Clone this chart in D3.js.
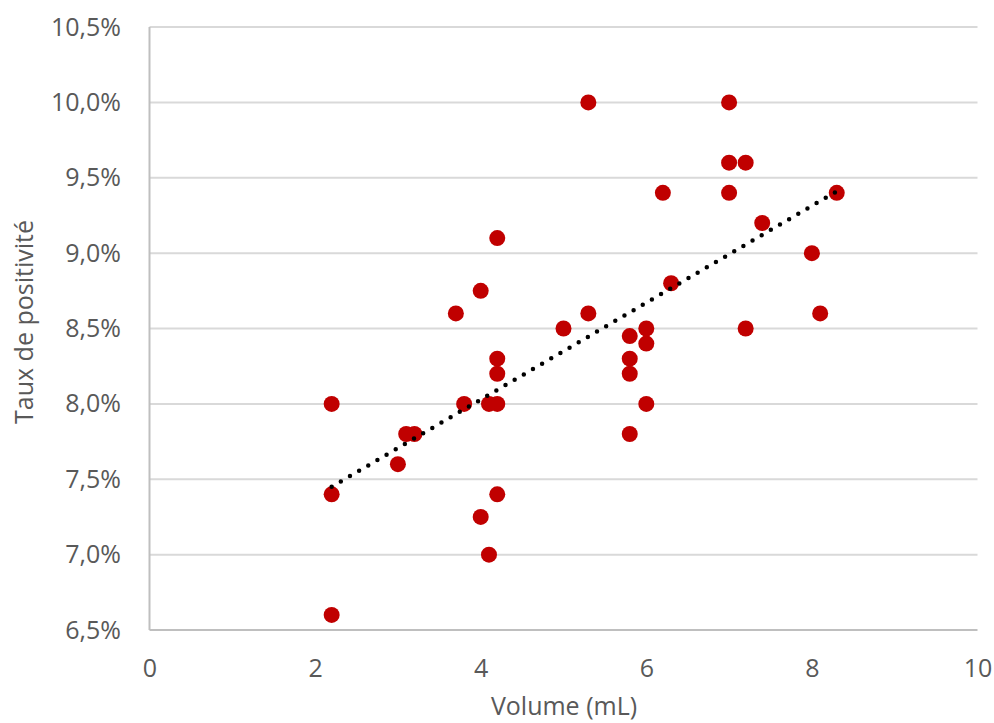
<!DOCTYPE html>
<html>
<head>
<meta charset="utf-8">
<script src="https://cdn.jsdelivr.net/npm/d3@7"></script>
<style>
  html, body { margin: 0; padding: 0; background: #fff; }
  svg { display: block; }
  text { font-family: "Open Sans", sans-serif; }
</style>
</head>
<body>
<script>
// Data
const volume = [2.2, 2.2, 2.2, 3.0, 3.1, 3.2, 3.7, 3.8, 4.0, 4.0, 4.1, 4.1, 4.2, 4.2, 4.2, 4.2, 4.2,
                5.0, 5.3, 5.3, 5.8, 5.8, 5.8, 5.8, 6.0, 6.0, 6.0, 6.2, 6.3, 7.0, 7.0, 7.0, 7.2, 7.2,
                7.4, 8.0, 8.1, 8.3];
const taux   = [8.0, 7.4, 6.6, 7.6, 7.8, 7.8, 8.6, 8.0, 8.75, 7.25, 8.0, 7.0, 9.1, 8.3, 8.2, 8.0, 7.4,
                8.5, 10.0, 8.6, 8.45, 8.3, 8.2, 7.8, 8.5, 8.4, 8.0, 9.4, 8.8, 10.0, 9.6, 9.4, 9.6, 8.5,
                9.2, 9.0, 8.6, 9.4];
const trendX = [2.2, 8.3];
const trendY = [7.45, 9.41];
const xTicks = [0, 2, 4, 6, 8, 10];
const yTicks = [6.5, 7.0, 7.5, 8.0, 8.5, 9.0, 9.5, 10.0, 10.5];
const xTitle = "Volume (mL)";
const yTitle = "Taux de positivité";

const W = 994, H = 723;
const svg = d3.select("body").append("svg").attr("width", W).attr("height", H);

const x = d3.scaleLinear().domain([0, 10]).range([149.5, 977.5]);
const y = d3.scaleLinear().domain([6.5, 10.5]).range([630, 27]);

const loc = d3.formatLocale({decimal: ",", thousands: " ", grouping: [3], currency: ["", "€"]});
const fmtY = d => loc.format(".1f")(d) + "%";

// gridlines
svg.append("g").selectAll("line").data(yTicks.filter(d => d !== 6.5)).join("line")
  .attr("x1", x(0)).attr("x2", x(10))
  .attr("y1", d => y(d)).attr("y2", d => y(d))
  .attr("stroke", "#d9d9d9").attr("stroke-width", 2);

// axis lines
svg.append("line").attr("x1", x(0)).attr("x2", x(0)).attr("y1", y(10.5)).attr("y2", y(6.5))
  .attr("stroke", "#bfbfbf").attr("stroke-width", 2);
svg.append("line").attr("x1", x(0)).attr("x2", x(10)).attr("y1", y(6.5)).attr("y2", y(6.5))
  .attr("stroke", "#bfbfbf").attr("stroke-width", 2);

// y axis labels
const gy = svg.append("g").attr("transform", `translate(${x(0)},0)`)
  .call(d3.axisLeft(y).tickValues(yTicks).tickFormat(fmtY).tickSize(0).tickPadding(28.5));
gy.select(".domain").remove();
gy.selectAll("text").attr("fill", "#595959").style("font-size", "25px").style("font-family", "'Open Sans', sans-serif");

// x axis labels
const gx = svg.append("g").attr("transform", `translate(0,${y(6.5)})`)
  .call(d3.axisBottom(x).tickValues(xTicks).tickFormat(d3.format("d")).tickSize(0).tickPadding(29));
gx.select(".domain").remove();
gx.selectAll("text").attr("fill", "#595959").style("font-size", "25px").style("font-family", "'Open Sans', sans-serif");

// points
const pts = volume.map((v, i) => ({v, t: taux[i]}));
svg.append("g").selectAll("circle").data(pts).join("circle")
  .attr("cx", d => x(d.v)).attr("cy", d => y(d.t)).attr("r", 8)
  .attr("fill", "#c00000");

// trendline
const line = d3.line().x(d => x(d[0])).y(d => y(d[1]));
svg.append("path").datum(trendX.map((v, i) => [v, trendY[i]]))
  .attr("d", line).attr("fill", "none").attr("stroke", "#000")
  .attr("stroke-width", 4.5).attr("stroke-linecap", "round")
  .attr("stroke-dasharray", "0 10.6");

// titles
svg.append("text").attr("x", 564).attr("y", 715).attr("text-anchor", "middle")
  .attr("fill", "#595959").style("font-size", "25px").text(xTitle);
svg.append("text").attr("transform", "translate(33,322) rotate(-90)").attr("text-anchor", "middle")
  .attr("fill", "#595959").style("font-size", "25px").text(yTitle);
</script>
</body>
</html>
